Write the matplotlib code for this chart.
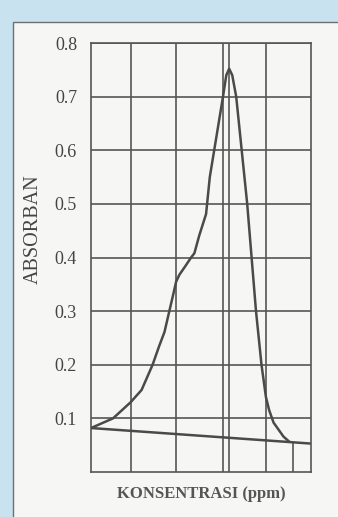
import matplotlib.pyplot as plt
from matplotlib.patches import Rectangle

# readings (x in arbitrary units 0..10)
conc = [0, 0.5, 1.0, 1.8, 2.3, 2.8, 3.1, 3.34, 3.56, 3.72, 3.87, 4.02, 4.24, 4.55, 4.7, 4.92,
        5.23, 5.4, 5.6, 6.0, 6.15, 6.28, 6.42, 6.6, 6.85, 7.1, 7.3, 7.5, 7.75, 7.95, 8.1, 8.3,
        8.75, 9.0]
absorb = [0.082, 0.091, 0.10, 0.13, 0.153, 0.20, 0.235, 0.261, 0.30, 0.328, 0.355, 0.368, 0.381,
          0.40, 0.408, 0.441, 0.481, 0.55, 0.60, 0.70, 0.74, 0.752, 0.74, 0.70, 0.60, 0.50, 0.40,
          0.30, 0.20, 0.14, 0.115, 0.092, 0.066, 0.057]
base_x = [0, 10]
base_y = [0.082, 0.053]
grid_x = [1.8, 3.87, 6.0, 6.27, 7.95]
short_x = 9.2
yticks = [0.1, 0.2, 0.3, 0.4, 0.5, 0.6, 0.7, 0.8]

plt.rcParams['font.family'] = ['Liberation Serif', 'DejaVu Serif']

fig = plt.figure(figsize=(3.38, 5.17), dpi=100)
fig.patch.set_facecolor('#c9e2ef')
fig.patches.append(Rectangle((13 / 338, -0.01), 1.0, 1 - 22 / 517 + 0.01,
                             transform=fig.transFigure, facecolor='#f6f7f5',
                             edgecolor='#707070', lw=1.0, zorder=-10))

ax = fig.add_axes([91 / 338, 1 - 472 / 517, 220 / 338, 429 / 517])
ax.set_zorder(5)
ax.set_facecolor('#f6f7f5')
gc = '#555555'

for y in yticks:
    ax.axhline(y, color=gc, lw=1.2, zorder=1)
for x in grid_x:
    ax.axvline(x, color=gc, lw=1.2, zorder=1)
ax.plot([short_x, short_x], [0, 0.055], color=gc, lw=1.2, zorder=1)

ax.plot(base_x, base_y, color='#4a4a4a', lw=1.8, zorder=2)
ax.plot(conc, absorb, color='#4a4a4a', lw=1.8, zorder=3)

ax.set_xlim(0, 10)
ax.set_ylim(0, 0.8)
ax.set_xticks([])
ax.set_yticks(yticks)
ax.set_yticklabels([f'{v:.1f}' for v in yticks], fontsize=13, color='#444444')
ax.tick_params(axis='y', length=0, pad=10)
for s in ax.spines.values():
    s.set_color(gc)
    s.set_linewidth(1.2)

ax.set_xlabel('KONSENTRASI (ppm)', fontsize=12, fontweight='bold', color='#555555', labelpad=10)
fig.text(33 / 338, 1 - 229 / 517, 'ABSORBAN', rotation=90, fontsize=14.5, color='#444444',
         ha='center', va='center', zorder=6)

fig.savefig('out.png', dpi=100, facecolor=fig.get_facecolor())
